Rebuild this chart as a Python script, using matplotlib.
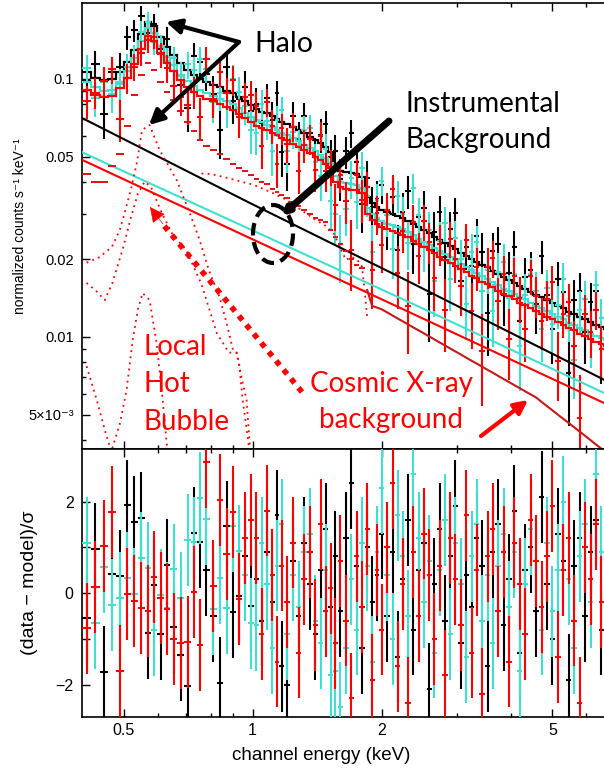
import numpy as np
import matplotlib
matplotlib.use("Agg")
import matplotlib.pyplot as plt
from matplotlib.patches import Ellipse, FancyArrowPatch
from matplotlib.ticker import FixedLocator, FixedFormatter, NullFormatter

plt.rcParams['font.family'] = ['Liberation Sans', 'DejaVu Sans']

# channel energies (keV), bin centres
energy = [0.41, 0.43, 0.45, 0.47, 0.49, 0.51, 0.53, 0.55, 0.57, 0.59,
          0.61, 0.63, 0.655, 0.68, 0.705, 0.73, 0.755, 0.78, 0.81, 0.84,
          0.87, 0.90, 0.93, 0.96, 0.99, 1.02, 1.05, 1.08, 1.11, 1.14,
          1.17, 1.20, 1.24, 1.28, 1.32, 1.36, 1.40, 1.44, 1.48, 1.52,
          1.56, 1.60, 1.65, 1.70, 1.75, 1.80, 1.85, 1.90, 1.95, 2.00,
          2.06, 2.12, 2.18, 2.24, 2.30, 2.37, 2.44, 2.51, 2.58, 2.65,
          2.73, 2.81, 2.89, 2.97, 3.06, 3.15, 3.24, 3.33, 3.43, 3.53,
          3.63, 3.74, 3.85, 3.96, 4.08, 4.20, 4.32, 4.45, 4.58, 4.72,
          4.86, 5.00, 5.15, 5.30, 5.46, 5.62, 5.79, 5.96, 6.14, 6.32,
          6.51, 6.70]

# total model, counts/s/keV
model_red = [0.091, 0.087, 0.085, 0.086, 0.092, 0.101, 0.114, 0.131, 0.147, 0.140,
             0.126, 0.115, 0.107, 0.099, 0.093, 0.089, 0.086, 0.084, 0.082, 0.080,
             0.078, 0.076, 0.073, 0.0705, 0.068, 0.066, 0.0645, 0.0634, 0.062, 0.0605,
             0.059, 0.0578, 0.056, 0.0547, 0.053, 0.0515, 0.050, 0.0485, 0.047, 0.045,
             0.040, 0.038, 0.0375, 0.0372, 0.037, 0.036, 0.030, 0.0285, 0.0275, 0.0268,
             0.0262, 0.0258, 0.0254, 0.0249, 0.0243, 0.0236, 0.0229, 0.0223, 0.0217, 0.0211,
             0.0205, 0.0199, 0.0194, 0.0189, 0.0183, 0.0178, 0.0173, 0.0169, 0.0164, 0.0160,
             0.0156, 0.0151, 0.0147, 0.0144, 0.0140, 0.0136, 0.0133, 0.0129, 0.0126, 0.0123,
             0.0120, 0.0117, 0.0114, 0.0111, 0.0108, 0.0106, 0.0103, 0.0101, 0.0098, 0.0096,
             0.0094, 0.0092]
model_cyan = [0.097, 0.093, 0.090, 0.091, 0.097, 0.107, 0.121, 0.140, 0.158, 0.151,
              0.134, 0.122, 0.113, 0.104, 0.098, 0.094, 0.091, 0.088, 0.086, 0.084,
              0.082, 0.080, 0.077, 0.074, 0.0715, 0.0695, 0.068, 0.0666, 0.065, 0.0635,
              0.062, 0.0607, 0.0588, 0.0574, 0.0557, 0.0541, 0.0525, 0.0509, 0.0494, 0.0473,
              0.042, 0.040, 0.0394, 0.0391, 0.0389, 0.0378, 0.0315, 0.0299, 0.0289, 0.0281,
              0.0275, 0.0271, 0.0267, 0.0261, 0.0255, 0.0248, 0.0240, 0.0234, 0.0228, 0.0222,
              0.0215, 0.0209, 0.0204, 0.0198, 0.0192, 0.0187, 0.0182, 0.0177, 0.0172, 0.0168,
              0.0164, 0.0159, 0.0154, 0.0151, 0.0147, 0.0143, 0.0140, 0.0135, 0.0132, 0.0129,
              0.0126, 0.0123, 0.0120, 0.0117, 0.0113, 0.0111, 0.0108, 0.0106, 0.0103, 0.0101,
              0.0099, 0.0097]
model_black = [0.106, 0.101, 0.099, 0.100, 0.106, 0.116, 0.130, 0.149, 0.166, 0.160,
               0.145, 0.133, 0.124, 0.115, 0.108, 0.104, 0.100, 0.097, 0.095, 0.093,
               0.090, 0.088, 0.085, 0.082, 0.079, 0.0766, 0.0748, 0.0735, 0.0719, 0.0702,
               0.0684, 0.0670, 0.0650, 0.0635, 0.0615, 0.0597, 0.0580, 0.0563, 0.0545, 0.0522,
               0.0464, 0.0441, 0.0435, 0.0432, 0.0429, 0.0418, 0.0348, 0.0331, 0.0319, 0.0311,
               0.0304, 0.0299, 0.0295, 0.0289, 0.0282, 0.0274, 0.0266, 0.0259, 0.0252, 0.0245,
               0.0238, 0.0231, 0.0225, 0.0219, 0.0212, 0.0206, 0.0201, 0.0196, 0.0190, 0.0186,
               0.0181, 0.0175, 0.0171, 0.0167, 0.0162, 0.0158, 0.0154, 0.0150, 0.0146, 0.0143,
               0.0139, 0.0136, 0.0132, 0.0129, 0.0125, 0.0123, 0.0119, 0.0117, 0.0114, 0.0111,
               0.0109, 0.0107]

# 1-sigma error as a fraction of the model
rel_err = [0.13, 0.14, 0.15, 0.15, 0.14, 0.13, 0.12, 0.11, 0.10, 0.10,
           0.11, 0.12, 0.12, 0.13, 0.14, 0.14, 0.15, 0.15, 0.16, 0.16,
           0.16, 0.17, 0.17, 0.17, 0.17, 0.16, 0.16, 0.16, 0.16, 0.15,
           0.15, 0.15, 0.15, 0.15, 0.15, 0.15, 0.16, 0.16, 0.16, 0.16,
           0.17, 0.17, 0.17, 0.18, 0.18, 0.18, 0.19, 0.19, 0.19, 0.19,
           0.19, 0.19, 0.19, 0.19, 0.19, 0.20, 0.20, 0.20, 0.20, 0.20,
           0.20, 0.20, 0.20, 0.20, 0.20, 0.20, 0.21, 0.21, 0.21, 0.21,
           0.21, 0.21, 0.21, 0.21, 0.21, 0.21, 0.21, 0.21, 0.21, 0.21,
           0.21, 0.21, 0.21, 0.22, 0.22, 0.22, 0.22, 0.22, 0.22, 0.22,
           0.22, 0.22]

# (data - model) / sigma
resid_black = [-0.55, 0.96, -1.73, 0.41, 0.37, 1.92, 1.55, 1.64, -0.88, 0.17,
               -0.9, 0.61, -0.74, -1.36, -2.03, 1.31, 1.11, 0.5, -0.5, -1.97,
               1.46, -0.41, -0.07, 0.81, -0.28, 0.3, -0.6, 0.9, -0.2, 1.7,
               -1.6, -2.0, 0.7, -0.5, 1.1, 0.2, -0.9, 0.5, 1.4, -0.3,
               0.8, -0.4, 1.2, 2.4, 0.6, -1.2, 1.0, -0.2, 0.4, 1.3,
               -0.5, 0.9, -1.4, 0.3, 1.6, -0.8, 0.5, 1.1, -2.1, 0.2,
               1.4, -0.6, 0.8, 1.9, -1.1, 0.4, -0.3, 1.2, 0.6, -1.6,
               0.9, 1.5, -0.7, 0.3, 1.8, -1.3, 0.5, 1.0, -0.4, 2.1,
               0.2, -1.0, 1.3, 0.7, -1.9, 0.6, 1.2, -0.5, 0.9, 1.6,
               -0.8, 0.4]
resid_cyan = [1.09, -0.66, 0.57, -0.26, -0.11, 0.33, -0.02, 0.77, 0.55, -0.81,
              -0.04, -0.33, 0.52, -0.11, 1.16, 1.11, 2.08, 1.62, -0.35, 0.33,
              -0.33, 1.46, 0.92, 0.39, -0.66, -0.7, 1.1, 0.2, -1.2, 0.6,
              1.5, -0.9, 0.4, -0.3, 0.9, 1.3, -0.6, -1.1, 0.5, -1.8,
              -1.7, -2.5, -1.2, 0.3, -0.8, 1.1, 0.6, -1.5, 0.9, 2.3,
              0.4, -1.0, 1.7, 0.8, -0.5, 2.6, 1.2, -0.2, 0.7, -1.3,
              0.5, 1.6, -0.9, 1.1, 0.2, -1.4, 0.8, 1.5, -0.6, 0.4,
              -1.1, 0.6, 1.3, -0.3, 0.9, -1.7, 0.2, 1.4, 0.7, -0.8,
              1.1, -0.4, 0.5, 2.0, 0.3, -1.2, 0.8, 1.5, -0.2, 2.6,
              0.9, -0.6]
resid_red = [-0.77, 0.13, 1.03, 1.77, -1.7, -0.02, -0.17, -0.33, -0.39, 0.35,
             -0.11, -0.35, -1.0, -1.09, -1.07, 0.02, -1.14, 2.86, 0.15, 2.03,
             0.85, 1.77, -0.13, 1.2, 1.6, 1.2, -0.9, 1.8, 0.4, -1.5,
             0.6, -0.2, 1.1, -1.3, 0.3, 0.9, -0.7, 1.5, -0.4, 0.1,
             -1.1, 0.7, -0.6, -2.3, 0.8, -0.3, 1.4, -1.9, 0.5, -0.8,
             1.0, 2.4, -1.6, 0.2, -2.4, 0.9, -0.5, 1.3, 0.4, -1.0,
             0.6, -1.8, 1.2, 0.3, -0.7, 1.7, -1.3, 0.5, -2.2, 0.8,
             1.4, -0.4, 0.9, -1.5, 1.1, 0.2, -0.9, 1.6, 0.7, -0.3,
             0.8, 1.9, -1.4, 0.5, 1.2, -0.6, -2.4, 1.0, 0.3, 1.5,
             -0.2, 0.6]

# halo component of the red spectrum (dashes, one per channel bin)
halo_red = [0.043, 0.040, 0.040, 0.046, 0.051, 0.066, 0.087, 0.104, 0.115, 0.108,
            0.097, 0.089, 0.083, 0.075, 0.068, 0.063, 0.058, 0.055, 0.053, 0.051,
            0.049, 0.047, 0.045, 0.044, 0.0425, 0.041, 0.040, 0.039, 0.0375, 0.0365,
            0.0355, 0.0345, 0.0335, 0.0322, 0.031, 0.030, 0.029, 0.0285, 0.028, 0.026,
            0.0245, 0.023, 0.0215, 0.020, 0.019, 0.0185, 0.0152, 0.0132, 0.0130, 0.0128,
            0.01245, 0.01211, 0.01179, 0.01149, 0.01121, 0.01089, 0.01060, 0.01032, 0.01005, 0.00980,
            0.00952, 0.00927, 0.00902, 0.00879, 0.00855, 0.00831, 0.00809, 0.00789, 0.00767, 0.00746,
            0.00727, 0.00706, 0.00687, 0.00669, 0.00650, 0.00633, 0.00616, 0.00599, 0.00583, 0.00560,
            0.00539, 0.00520, 0.00500, 0.00482, 0.00464, 0.00447, 0.00430, 0.00414, 0.00398, 0.00383,
            0.00369, 0.00355]

# power-law components
pl_energy = [0.4, 0.984, 2.2, 7.0]
pl_black = [0.0706, 0.0331, 0.0171, 0.0065]
pl_cyan = [0.052, 0.0262, 0.0142, 0.0058]
pl_red = [0.0486, 0.0242, 0.0130, 0.0053]

# dotted components (Local Hot Bubble etc.)
lhb_a_energy = [0.41, 0.44, 0.47, 0.49, 0.503, 0.52, 0.537, 0.552, 0.575, 0.607, 0.665,
                0.713, 0.752, 0.79, 0.837, 0.87, 0.90, 0.918, 0.93, 0.947, 0.968, 0.99]
lhb_a = [0.0194, 0.0204, 0.0224, 0.026, 0.0303, 0.0372, 0.0473, 0.0634, 0.0663, 0.053, 0.0406,
         0.0303, 0.0238, 0.0182, 0.0143, 0.0113, 0.0089, 0.0087, 0.0079, 0.0058, 0.0044, 0.0033]
lhb_b_energy = [0.41, 0.433, 0.452, 0.471, 0.497, 0.52, 0.54, 0.56, 0.58, 0.61, 0.65,
                0.70, 0.76, 0.824, 0.88, 0.917, 0.945, 0.968, 0.984, 0.99]
lhb_b = [0.0162, 0.0150, 0.0139, 0.0162, 0.0217, 0.029, 0.036, 0.040, 0.038, 0.031, 0.025,
         0.0217, 0.016, 0.0104, 0.0087, 0.0087, 0.0068, 0.0057, 0.0039, 0.0033]
lhb_c_energy = [0.41, 0.433, 0.455, 0.468, 0.49, 0.508, 0.525, 0.54, 0.554, 0.575,
                0.597, 0.617, 0.63, 0.64]
lhb_c = [0.0077, 0.0057, 0.0042, 0.0036, 0.0046, 0.0062, 0.0097, 0.0128, 0.0148, 0.0139,
         0.0095, 0.0057, 0.0039, 0.0033]
line_energy = [0.76, 0.80, 0.85, 0.90, 0.95, 1.0, 1.1, 1.2, 1.3, 1.4, 1.49,
               1.55, 1.6, 1.65, 1.7, 1.75, 1.8, 1.85]
line_comp = [0.043, 0.0428, 0.0418, 0.0408, 0.0398, 0.039, 0.0365, 0.034, 0.031, 0.0285, 0.0268,
             0.025, 0.0222, 0.0199, 0.0204, 0.020, 0.0187, 0.012]

CYAN = '#40E0D0'
RED = '#FF0000'

e = np.array(energy)
mid = np.sqrt(e[1:] * e[:-1])
lo = np.concatenate([[e[0] ** 2 / mid[0]], mid])
hi = np.concatenate([mid, [e[-1] ** 2 / mid[-1]]])
edges = np.concatenate([[lo[0]], hi])

fig = plt.figure(figsize=(6.04, 7.74), dpi=100)
W, H = 604.0, 774.0
left, right = 82, 615
ax1 = fig.add_axes([left / W, 1 - 449 / H, (right - left) / W, (449 - 3) / H])
ax2 = fig.add_axes([left / W, 1 - 717 / H, (right - left) / W, (717 - 449) / H])

series = [(model_black, resid_black, 'black', 2),
          (model_cyan, resid_cyan, CYAN, 4),
          (model_red, resid_red, RED, 6)]

for model, resid, col, z in series:
    m = np.array(model)
    err = m * np.array(rel_err)
    data = m + np.array(resid) * err
    ax1.errorbar(e, data, yerr=err, xerr=[e - lo, hi - e], fmt='none',
                 ecolor=col, elinewidth=1.5, capsize=0, zorder=z)
    ax2.errorbar(e, resid, yerr=1.0, xerr=[e - lo, hi - e], fmt='none',
                 ecolor=col, elinewidth=1.5, capsize=0, zorder=z)
    # total model drawn just above its own data
    ax1.stairs(model, edges, baseline=None, color=col, lw=1.6, zorder=z + 0.5)

ax1.plot(pl_energy, pl_black, color='black', lw=1.5, zorder=8)
ax1.plot(pl_energy, pl_cyan, color=CYAN, lw=1.5, zorder=8)
ax1.plot(pl_energy, pl_red, color=RED, lw=1.5, zorder=8)

# halo: short dashes per bin at low energy, merging into a line at high energy
n_dash = 46
ax1.hlines(halo_red[:n_dash], lo[:n_dash], hi[:n_dash], color='#E01010', lw=1.4, zorder=9)
ax1.plot(energy[n_dash:], halo_red[n_dash:], color='#C81818', lw=1.5, zorder=9)

dots = (0, (1, 2.4))
for xx, yy in [(lhb_a_energy, lhb_a), (lhb_b_energy, lhb_b),
               (lhb_c_energy, lhb_c), (line_energy, line_comp)]:
    ax1.plot(xx, yy, color=RED, ls=dots, lw=1.3, zorder=9)

for ax in (ax1, ax2):
    ax.set_xscale('log')
    ax.set_xlim(0.4, 7.0)
    ax.xaxis.set_major_locator(FixedLocator([0.5, 1, 2, 5]))
    ax.xaxis.set_minor_locator(FixedLocator([0.6, 0.7, 0.8, 0.9, 3, 4, 6, 7]))
    ax.xaxis.set_minor_formatter(NullFormatter())
    ax.tick_params(which='both', direction='in', top=True, right=True, width=1.0)
    ax.tick_params(which='major', length=5.5)
    ax.tick_params(which='minor', length=3)
    for s in ax.spines.values():
        s.set_linewidth(1.2)

ax1.set_yscale('log')
ax1.set_ylim(0.00368, 0.197)
ax1.yaxis.set_major_locator(FixedLocator([0.005, 0.01, 0.02, 0.05, 0.1]))
ax1.yaxis.set_major_formatter(FixedFormatter(['5×10⁻³', '0.01', '0.02', '0.05', '0.1']))
ax1.yaxis.set_minor_locator(FixedLocator([0.004, 0.006, 0.007, 0.008, 0.009,
                                          0.03, 0.04, 0.06, 0.07, 0.08, 0.09]))
ax1.yaxis.set_minor_formatter(NullFormatter())
ax1.xaxis.set_major_formatter(NullFormatter())
ax1.tick_params(axis='y', labelsize=10.5, pad=6)
ax1.set_ylabel('normalized counts s⁻¹ keV⁻¹', fontsize=10)
ax1.yaxis.set_label_coords(-0.104, 0.5)

ax2.set_ylim(-2.71, 3.15)
ax2.yaxis.set_major_locator(FixedLocator([-2, 0, 2]))
ax2.yaxis.set_minor_locator(FixedLocator([-1, 1]))
ax2.xaxis.set_major_formatter(FixedFormatter(['0.5', '1', '2', '5']))
ax2.tick_params(which='minor', axis='y', length=5.5)
ax2.tick_params(axis='both', labelsize=11.5, pad=4)
ax2.tick_params(axis='y', pad=6)
ax2.set_ylabel('(data − model)/σ', fontsize=14)
ax2.yaxis.set_label_coords(-0.083, 0.5)
ax2.set_xlabel('channel energy (keV)', fontsize=13.5, va='center')
ax2.xaxis.set_label_coords(0.448, -0.142)

# annotation layer in pixel coordinates
ov = fig.add_axes([0, 0, 1, 1], zorder=20)
ov.set_xlim(0, W)
ov.set_ylim(H, 0)
ov.axis('off')
ov.patch.set_alpha(0)

afont = ['Lato', 'DejaVu Sans']
ov.text(254, 52, 'Halo', fontsize=20.5, family=afont, va='baseline')
ov.text(406, 112, 'Instrumental', fontsize=20, family=afont, va='baseline')
ov.text(406, 148, 'Background', fontsize=20, family=afont, va='baseline')
ov.text(143, 355, 'Local', fontsize=20, family=afont, va='baseline', color=RED)
ov.text(143, 392, 'Hot', fontsize=20, family=afont, va='baseline', color=RED)
ov.text(143, 430, 'Bubble', fontsize=20, family=afont, va='baseline', color=RED)
ov.text(391, 392, 'Cosmic X-ray', fontsize=20, family=afont, va='baseline', ha='center', color=RED)
ov.text(391, 428, 'background', fontsize=20, family=afont, va='baseline', ha='center', color=RED)

for tip in [(166, 22), (149, 125)]:
    ov.add_patch(FancyArrowPatch((239, 42), tip, arrowstyle='-|>', mutation_scale=22,
                                 lw=3, color='black', shrinkA=0, shrinkB=0))
ov.add_patch(FancyArrowPatch((389, 121), (281, 216), arrowstyle='->', mutation_scale=9,
                             lw=5, color='black', shrinkA=0, shrinkB=0))
ov.add_patch(Ellipse((273, 234), 40, 58, fill=False, ec='black', lw=3,
                     ls=(0, (3, 1.6))))
ov.plot([302, 161], [392, 222], color=RED, lw=4, ls=(0, (1, 1.1)))
ov.add_patch(FancyArrowPatch((163, 224), (150, 207), arrowstyle='-|>', mutation_scale=24,
                             lw=0.5, color=RED, shrinkA=0, shrinkB=0))
ov.add_patch(FancyArrowPatch((481, 436), (528, 400), arrowstyle='-|>', mutation_scale=20,
                             lw=3, color=RED, shrinkA=0, shrinkB=0))

fig.savefig('out.png', dpi=100)
